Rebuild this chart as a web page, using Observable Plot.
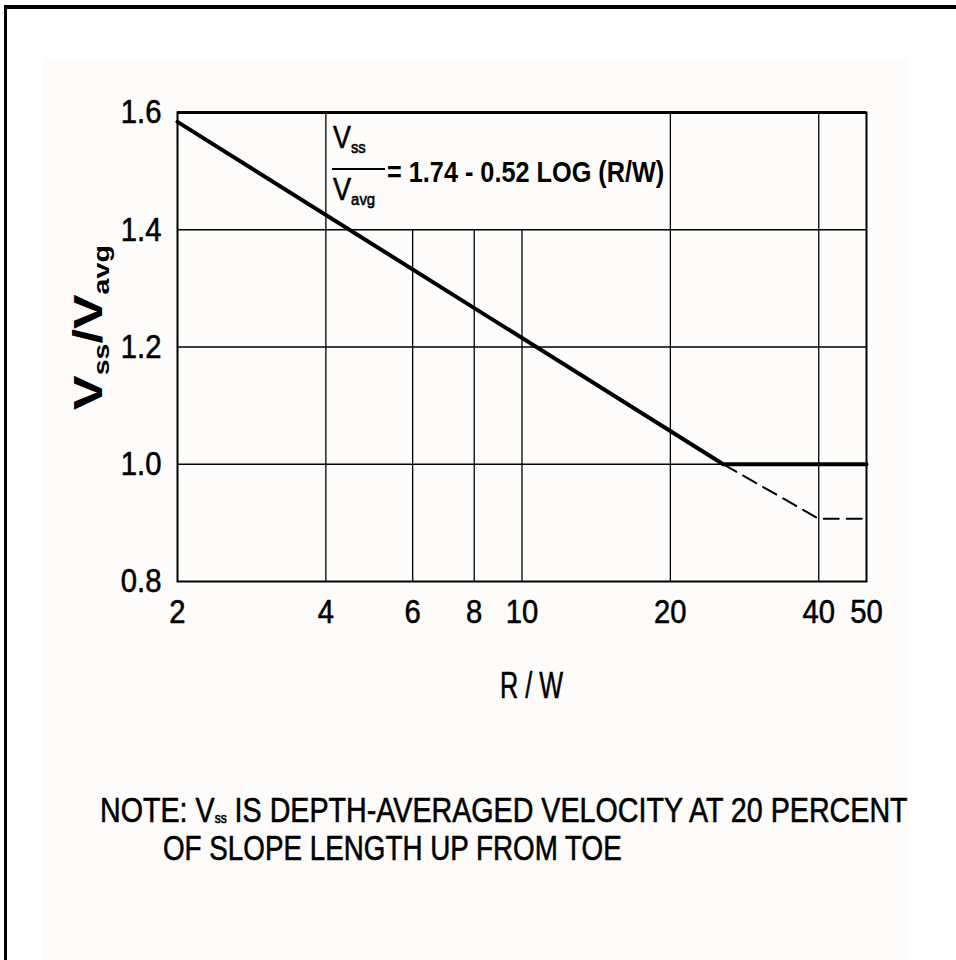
<!DOCTYPE html>
<html>
<head>
<meta charset="utf-8">
<script src="https://cdn.jsdelivr.net/npm/d3@7"></script>
<script src="https://cdn.jsdelivr.net/npm/@observablehq/plot@0.6"></script>
<style>
  html, body { margin: 0; padding: 0; background: #ffffff; }
  body { width: 956px; height: 960px; overflow: hidden; }
  #page { position: relative; width: 956px; height: 960px; font-family: "Liberation Sans", Arial, sans-serif; color: #000; }
  #topborder { position: absolute; left: 4px; top: 5px; width: 952px; height: 4px; background: #000; }
  #leftborder { position: absolute; left: 4px; top: 5px; width: 3px; height: 955px; background: #000; }
  #paper { position: absolute; left: 42px; top: 58px; width: 865px; height: 902px; background: #fdfcfa; }
  #chart { position: absolute; left: 0; top: 0; }
  .abs { position: absolute; white-space: nowrap; line-height: 1; transform-origin: 0 0; -webkit-text-stroke: 0.6px #000; }
  sub { font-size: 0.55em; vertical-align: baseline; position: relative; top: 0.3em; }
  #note sub { font-size: 0.42em; top: 0.08em; line-height: 0; }
  #ylabel { font-weight: bold; font-size: 40px; -webkit-text-stroke: 0; }
  #eqbar { position: absolute; left: 332px; top: 168px; width: 53px; height: 1.5px; background: #000; }
  .eqv { font-size: 31px; }
  #eqtext { font-size: 30px; font-weight: bold; -webkit-text-stroke: 0; }
  #note { font-size: 35px; line-height: 36px; }
  #note .line { display: block; width: max-content; height: 36px; transform-origin: 0 0; }
  #xlabel { font-size: 36px; }
</style>
</head>
<body>
<div id="page">
  <div id="paper"></div>
  <div id="topborder"></div>
  <div id="leftborder"></div>
  <div id="chart"></div>
  <div id="ylabel" class="abs" style="left:68px; top:410px;">V<sub>ss</sub>/V<sub>avg</sub></div>
  <div id="eqv1" class="abs eqv" style="left:333px; top:122px;">V<sub>ss</sub></div>
  <div id="eqbar"></div>
  <div id="eqv2" class="abs eqv" style="left:333px; top:174px;">V<sub>avg</sub></div>
  <div id="eqtext" class="abs" style="left:387px; top:157px;">= 1.74 - 0.52 LOG (R/W)</div>
  <div id="xlabel" class="abs" style="left:500px; top:668px;">R / W</div>
  <div id="note" class="abs" style="left:100px; top:792px;"><span id="note1" class="line">NOTE: V<sub>ss</sub> IS DEPTH-AVERAGED VELOCITY AT 20 PERCENT</span><span id="note2" class="line" style="margin-left:63px; margin-top:2px;">OF SLOPE LENGTH UP FROM TOE</span></div>
</div>
<script>
// ---- data ----
const xTickValues = [2, 4, 6, 8, 10, 20, 40, 50];
const yTickValues = [0.8, 1.0, 1.2, 1.4, 1.6];
const gridYValues = [1.0, 1.2, 1.4];
const gridXFull = [4, 20, 40];
const gridXShort = [6, 8, 10];
const gridXShortTop = 1.4;
const solidRW = [2, 25.6, 50];
const solidV = [1.584, 1.0, 1.0];
const dashedRW = [25.6, 40, 50];
const dashedV = [1.0, 0.907, 0.907];

const solid = solidRW.map((x, i) => ({x, y: solidV[i]}));
const dashed = dashedRW.map((x, i) => ({x, y: dashedV[i]}));

const chart = Plot.plot({
  width: 956,
  height: 720,
  marginLeft: 177,
  marginRight: 90,
  marginTop: 112,
  marginBottom: 139,
  style: {
    background: "transparent",
    fontFamily: '"Liberation Sans", Arial, sans-serif',
    fontSize: "34px",
    color: "black"
  },
  x: {type: "log", domain: [2, 50], axis: null},
  y: {domain: [0.8, 1.6], axis: null},
  marks: [
    Plot.ruleY(gridYValues, {stroke: "black", strokeWidth: 1.7}),
    Plot.ruleX(gridXFull, {y1: 0.8, y2: 1.6, stroke: "black", strokeWidth: 1.3}),
    Plot.ruleX(gridXShort, {y1: 0.8, y2: gridXShortTop, stroke: "black", strokeWidth: 1.3}),
    Plot.ruleY([1.6], {stroke: "black", strokeWidth: 3}),
    Plot.frame({stroke: "black", strokeWidth: 2}),
    Plot.line(solid, {x: "x", y: "y", stroke: "black", strokeWidth: 4}),
    Plot.line(dashed, {x: "x", y: "y", stroke: "black", strokeWidth: 2, strokeDasharray: "15,8"}),
    Plot.text(xTickValues, {x: d => d, text: d => String(d), frameAnchor: "bottom", lineAnchor: "top", dy: 17, fill: "black", stroke: "black", strokeWidth: 0.6}),
    Plot.text(yTickValues, {y: d => d, text: d => d.toFixed(1), frameAnchor: "left", textAnchor: "end", dx: -16, fill: "black", stroke: "black", strokeWidth: 0.6})
  ]
});
document.getElementById("chart").appendChild(chart);

// condense SVG texts (narrow typeface look) around their anchor
function condenseSvgText(svg, s) {
  svg.querySelectorAll("text").forEach(t => {
    const bb = t.getBBox();
    const anchor = getComputedStyle(t).textAnchor;
    const ax = anchor === "end" ? bb.x + bb.width : anchor === "middle" ? bb.x + bb.width / 2 : bb.x;
    const prev = t.getAttribute("transform") || "";
    t.setAttribute("transform", `${prev} translate(${ax},0) scale(${s},1) translate(${-ax},0)`);
  });
}
// fit HTML labels to the widths measured on the reference
function fit(id, w, rot) {
  const el = document.getElementById(id);
  const nat = el.offsetWidth;
  const s = w / nat;
  el.style.transform = (rot ? "rotate(-90deg) " : "") + `scaleX(${s})`;
}
function layout() {
  fit("ylabel", 165, true);
  fit("eqtext", 277);
  fit("xlabel", 63);
  fit("note1", 808);
  fit("note2", 459);
  fit("eqv1", 33);
  fit("eqv2", 42);
}
condenseSvgText(chart, 0.86);
layout();
</script>
</body>
</html>
